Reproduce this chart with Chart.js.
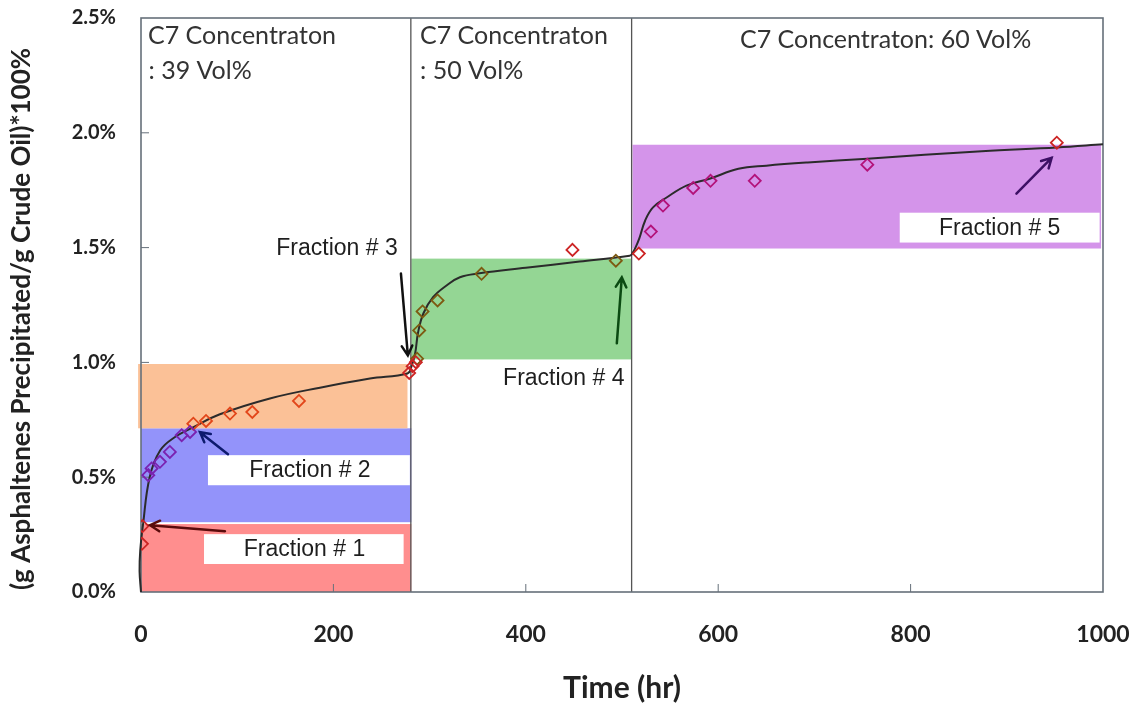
<!DOCTYPE html>
<html>
<head>
<title>Asphaltene Precipitation vs Time</title>
<script src="https://cdn.jsdelivr.net/npm/chart.js"></script>
<style>
  body { margin: 0; background: #fff; }
  #wrap { width: 1144px; height: 708px; }
</style>
</head>
<body>
<div id="wrap"><canvas id="asphChart"></canvas></div>
<script>
// fitted precipitation curve (time in hr, precipitate in %)
const fitTime = [0, -1.5, -0.8, 2, 9, 20, 35, 54, 82, 134, 186, 238, 277,
  281, 285, 288, 293.5, 303.6, 317.6, 331.5, 352, 400, 456, 508,
  510, 514, 518, 524, 532, 546, 567, 591, 621, 650, 693, 755, 874, 952, 1000];
const fitVal = [0, 0.09, 0.18, 0.29, 0.5, 0.617, 0.674, 0.717, 0.774, 0.843, 0.89, 0.93, 0.952,
  0.98, 1.04, 1.13, 1.213, 1.284, 1.335, 1.371, 1.388, 1.412, 1.439, 1.465,
  1.47, 1.5, 1.54, 1.617, 1.674, 1.717, 1.77, 1.8, 1.843, 1.857, 1.871, 1.887, 1.92, 1.936, 1.95];

// measured points, grouped by marker colour
const redTime = [1, 1.5, 278.8, 282.3, 285.7, 448.5, 517.5, 952];
const redVal = [0.21, 0.287, 0.954, 0.983, 1.001, 1.49, 1.474, 1.957];
const purpleTime = [7.6, 11, 19.7, 30, 42.3, 51];
const purpleVal = [0.509, 0.538, 0.567, 0.61, 0.683, 0.697];
const orangeTime = [54.4, 67.6, 92.5, 115.7, 164.2];
const orangeVal = [0.733, 0.745, 0.777, 0.784, 0.832];
const oliveTime = [287, 289.2, 292.7, 308.3, 354, 493.6];
const oliveVal = [1.016, 1.139, 1.222, 1.27, 1.386, 1.443];
const magentaTime = [530, 542.6, 574, 592, 638, 755];
const magentaVal = [1.57, 1.683, 1.76, 1.791, 1.791, 1.861];

// fraction bands: time span and precipitate span
const fractionNames = ['Fraction # 1', 'Fraction # 2', 'Fraction # 3', 'Fraction # 4', 'Fraction # 5'];
const bandStart = [0, 0, -3, 281, 511];
const bandEnd = [281, 281, 277, 510, 998];
const bandLow = [0, 0.304, 0.713, 1.013, 1.496];
const bandHigh = [0.296, 0.713, 0.993, 1.452, 1.948];

// solvent stage boundaries (hr)
const stageBreaks = [280.5, 510];

const yTicks = [0, 0.5, 1.0, 1.5, 2.0, 2.5];
const xTicks = [0, 200, 400, 600, 800, 1000];

const pts = (t, v) => t.map((x, i) => ({ x: x, y: v[i] }));

const bandColors = ['#ff8e8e', '#9393fa', '#fbc197', '#94d694', '#d494ea'];

// label boxes and label anchors, in data units
const labelBoxes = [
  { t0: 65.5, t1: 273, lo: 0.122, hi: 0.252 },
  { t0: 69.6, t1: 279.5, lo: 0.465, hi: 0.596 },
  null,
  null,
  { t0: 788.7, t1: 996.5, lo: 1.522, hi: 1.652 }
];
const labelAt = [[170, 0.183], [175.6, 0.53], [203.7, 1.496], [439.5, 0.93], [892.6, 1.583]];
const arrows = [
  { from: [87.3, 0.265], to: [9.4, 0.291], color: '#5a0b0b' },
  { from: [90.4, 0.6], to: [61.3, 0.696], color: '#0d1a6e' },
  { from: [270.2, 1.387], to: [277.4, 1.03], color: '#111111' },
  { from: [494.6, 1.083], to: [499.8, 1.37], color: '#0b4a12' },
  { from: [910, 1.735], to: [946.6, 1.891], color: '#3d1065' }
];
const stageText = [
  { text: 'C7 Concentraton', at: [7.3, 2.422], align: 'left' },
  { text: ': 39 Vol%', at: [7.8, 2.27], align: 'left' },
  { text: 'C7 Concentraton', at: [290, 2.422], align: 'left' },
  { text: ': 50 Vol%', at: [290, 2.27], align: 'left' },
  { text: 'C7 Concentraton: 60 Vol%', at: [774, 2.405], align: 'center' }
];

const overlay = {
  id: 'overlay',
  beforeDatasetsDraw(chart) {
    const { ctx, chartArea: a, scales: { x, y } } = chart;
    const px = v => x.getPixelForValue(v), py = v => y.getPixelForValue(v);
    ctx.save();
    fractionNames.forEach((n, i) => {
      ctx.fillStyle = bandColors[i];
      ctx.fillRect(px(bandStart[i]), py(bandHigh[i]),
        px(bandEnd[i]) - px(bandStart[i]), py(bandLow[i]) - py(bandHigh[i]));
    });
    ctx.fillStyle = '#ffffff';
    labelBoxes.forEach(b => {
      if (!b) return;
      ctx.fillRect(px(b.t0), py(b.hi), px(b.t1) - px(b.t0), py(b.lo) - py(b.hi));
    });
    // stage dividers
    ctx.strokeStyle = '#555555';
    ctx.lineWidth = 1.3;
    stageBreaks.forEach(t => {
      ctx.beginPath();
      ctx.moveTo(px(t), a.top);
      ctx.lineTo(px(t), a.bottom);
      ctx.stroke();
    });
    // frame and inward tick marks
    ctx.strokeStyle = '#66707a';
    ctx.lineWidth = 1.6;
    ctx.strokeRect(a.left, a.top, a.right - a.left, a.bottom - a.top);
    ctx.lineWidth = 1;
    ctx.beginPath();
    yTicks.slice(1, -1).forEach(v => {
      ctx.moveTo(a.left, py(v));
      ctx.lineTo(a.left + 8, py(v));
    });
    xTicks.slice(1, -1).forEach(v => {
      ctx.moveTo(px(v), a.bottom);
      ctx.lineTo(px(v), a.bottom - 8);
    });
    ctx.stroke();
    ctx.restore();
  },
  afterDatasetsDraw(chart) {
    const { ctx, chartArea: a, scales: { x, y } } = chart;
    const px = v => x.getPixelForValue(v), py = v => y.getPixelForValue(v);
    ctx.save();
    // arrows pointing at each fraction's cut point
    arrows.forEach(ar => {
      const x1 = px(ar.from[0]), y1 = py(ar.from[1]);
      const x2 = px(ar.to[0]), y2 = py(ar.to[1]);
      const ang = Math.atan2(y2 - y1, x2 - x1);
      ctx.strokeStyle = ar.color;
      ctx.lineWidth = 2.5;
      ctx.lineCap = 'round';
      ctx.beginPath();
      ctx.moveTo(x1, y1);
      ctx.lineTo(x2, y2);
      ctx.moveTo(x2 - 11 * Math.cos(ang - 0.5), y2 - 11 * Math.sin(ang - 0.5));
      ctx.lineTo(x2, y2);
      ctx.lineTo(x2 - 11 * Math.cos(ang + 0.5), y2 - 11 * Math.sin(ang + 0.5));
      ctx.stroke();
    });
    // fraction labels
    ctx.fillStyle = '#1e1e1e';
    ctx.font = '23px "Liberation Sans", Arial, sans-serif';
    ctx.textAlign = 'center';
    ctx.textBaseline = 'middle';
    fractionNames.forEach((n, i) => {
      ctx.fillText(n, px(labelAt[i][0]), py(labelAt[i][1]));
    });
    // solvent stage notes
    ctx.fillStyle = '#333333';
    ctx.font = '25px Lato, sans-serif';
    stageText.forEach(s => {
      ctx.textAlign = s.align;
      ctx.fillText(s.text, px(s.at[0]), py(s.at[1]));
    });
    // axis titles
    ctx.fillStyle = '#222222';
    ctx.textAlign = 'center';
    ctx.font = 'bold 30px Lato, sans-serif';
    ctx.fillText('Time (hr)', (a.left + a.right) / 2, a.bottom + 96);
    ctx.translate(a.left - 119, (a.top + a.bottom) / 2 + 14);
    ctx.rotate(-Math.PI / 2);
    ctx.font = 'bold 26px Lato, sans-serif';
    ctx.fillText('(g Asphaltenes Precipitated/g Crude Oil)*100%', 0, 0);
    ctx.restore();
  }
};

const marker = (label, data, color) => ({
  label: label,
  data: data,
  showLine: false,
  pointStyle: 'rectRot',
  pointRadius: 6,
  borderWidth: 1.8,
  borderColor: color,
  backgroundColor: 'rgba(0,0,0,0)'
});

new Chart(document.getElementById('asphChart'), {
  type: 'scatter',
  data: {
    datasets: [
      marker('red', pts(redTime, redVal), '#cc2424'),
      marker('purple', pts(purpleTime, purpleVal), '#7a22b0'),
      marker('orange', pts(orangeTime, orangeVal), '#e2461a'),
      marker('olive', pts(oliveTime, oliveVal), '#7d5a12'),
      marker('magenta', pts(magentaTime, magentaVal), '#b3127a'),
      {
        label: 'fit',
        data: pts(fitTime, fitVal),
        showLine: true,
        borderColor: '#2b2b2b',
        borderWidth: 2,
        pointRadius: 0,
        tension: 0.4,
        clip: { left: 6, top: 2, right: 2, bottom: 2 }
      }
    ]
  },
  options: {
    responsive: true,
    maintainAspectRatio: false,
    animation: false,
    layout: { padding: { left: 0, right: 41, top: 18, bottom: 0 } },
    plugins: { legend: { display: false }, tooltip: { enabled: false } },
    scales: {
      x: {
        type: 'linear', min: 0, max: 1000,
        afterBuildTicks: s => { s.ticks = xTicks.map(v => ({ value: v })); },
        afterFit: s => { s.height = 116; s.paddingLeft = 0; s.paddingRight = 0; },
        grid: { display: false },
        border: { display: false },
        ticks: {
          padding: 21, color: '#222',
          font: { family: 'Lato', weight: 'bold', size: 23 },
          callback: v => String(v)
        }
      },
      y: {
        min: 0, max: 2.5,
        afterBuildTicks: s => { s.ticks = yTicks.map(v => ({ value: v })); },
        afterFit: s => { s.width = 141; s.paddingTop = 0; s.paddingBottom = 0; },
        grid: { display: false },
        border: { display: false },
        ticks: {
          padding: 17, color: '#222',
          font: { family: 'Lato', weight: 'bold', size: 20 },
          callback: v => v.toFixed(1) + '%'
        }
      }
    }
  },
  plugins: [overlay]
});
</script>
</body>
</html>
